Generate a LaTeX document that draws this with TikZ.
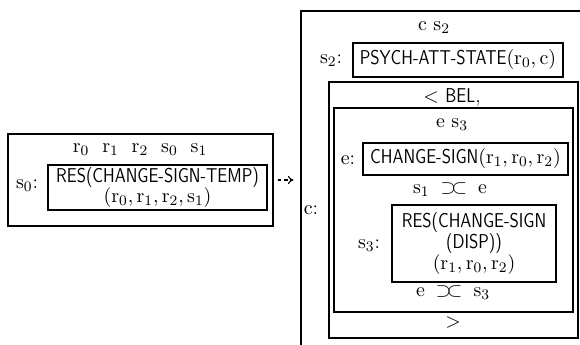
\documentclass[tikz,border=0pt]{standalone}
\usetikzlibrary{arrows.meta}
\newcommand\abutsym{\mathrel{\supset\mkern-4mu\subset}}
\newcommand\vr[1]{\mathrm{#1}}
\newcommand\sx[1]{\scalebox{0.85}[1]{\textsf{#1}}}
\tikzset{
  bx/.style 2 args={draw, line width=0.75pt, minimum width=#1*0.55pt, minimum height=#2*0.55pt, inner sep=0pt, align=center},
  lbl/.style={inner sep=0pt},
  dasharrow/.style={draw, line width=0.6pt, dash pattern=on 2pt off 1.5pt, -{To[length=3pt,width=4.5pt]}}
}
\begin{document}
\begin{tikzpicture}[x=0.55pt,y=-0.55pt,font=\fontsize{11}{11.5}\selectfont]
\useasboundingbox (0,0) rectangle (580,345);
\clip (0,0) rectangle (580,345);
\fill[white] (0,0) rectangle (580,345);
% left structure
\node[bx={265}{92}] (lout) at (140.5,180) {};
\node[lbl] (hdr0) at (140,150) {$\vr{r}_0\ \ \vr{r}_1\ \ \vr{r}_2\ \ \vr{s}_0\ \ \vr{s}_1$};
\node[lbl] (s0lab) at (27,186) {$\vr{s}_0$:};
\node[bx={219}{45}] (lin) at (157.5,187.5) {\sx{RES(CHANGE-SIGN-TEMP)}\\$(\vr{r}_0,\vr{r}_1,\vr{r}_2,\vr{s}_1)$};
% right structure
\node[bx={299}{349}] (rout) at (450.5,185.5) {};
\node[lbl] (hdr1) at (434,28) {$\vr{c}\ \vr{s}_2$};
\node[lbl] (s2lab) at (331,61) {$\vr{s}_2$:};
\node[bx={210}{34}] (psych) at (458,60) {\sx{PSYCH-ATT-STATE}$(\vr{r}_0,\vr{c})$};
\node[lbl] (clab) at (311,210) {$\vr{c}$:};
\node[bx={249}{256}] (bel) at (453.5,210) {};
\node[lbl] (beltxt) at (452,97) {$<$ \sx{BEL},};
\node[bx={239}{204}] (ebox) at (453.5,210) {};
\node[lbl] (hdr2) at (452,125) {$\vr{e}\ \vr{s}_3$};
\node[lbl] (elab) at (348,160) {$\vr{e}$:};
\node[bx={205}{32}] (cs) at (465.5,159) {\sx{CHANGE-SIGN}$(\vr{r}_1,\vr{r}_0,\vr{r}_2)$};
\node[lbl] (abut1) at (450,190) {$\vr{s}_1\;\abutsym\;\vr{e}$};
\node[lbl] (s3lab) at (369,246) {$\vr{s}_3$:};
\node[bx={164}{77}] (res) at (474,243.5) {\sx{RES(CHANGE-SIGN}\\\sx{(DISP))}\\$(\vr{r}_1,\vr{r}_0,\vr{r}_2)$};
\node[lbl] (abut2) at (453,293) {$\vr{e}\;\abutsym\;\vr{s}_3$};
\node[lbl] (gt) at (453,323) {$>$};
% arrow
\draw[dasharrow, shorten <=2.2pt, shorten >=3.8pt] (lout.east) -- (lout.east -| rout.west);
\end{tikzpicture}
\end{document}
